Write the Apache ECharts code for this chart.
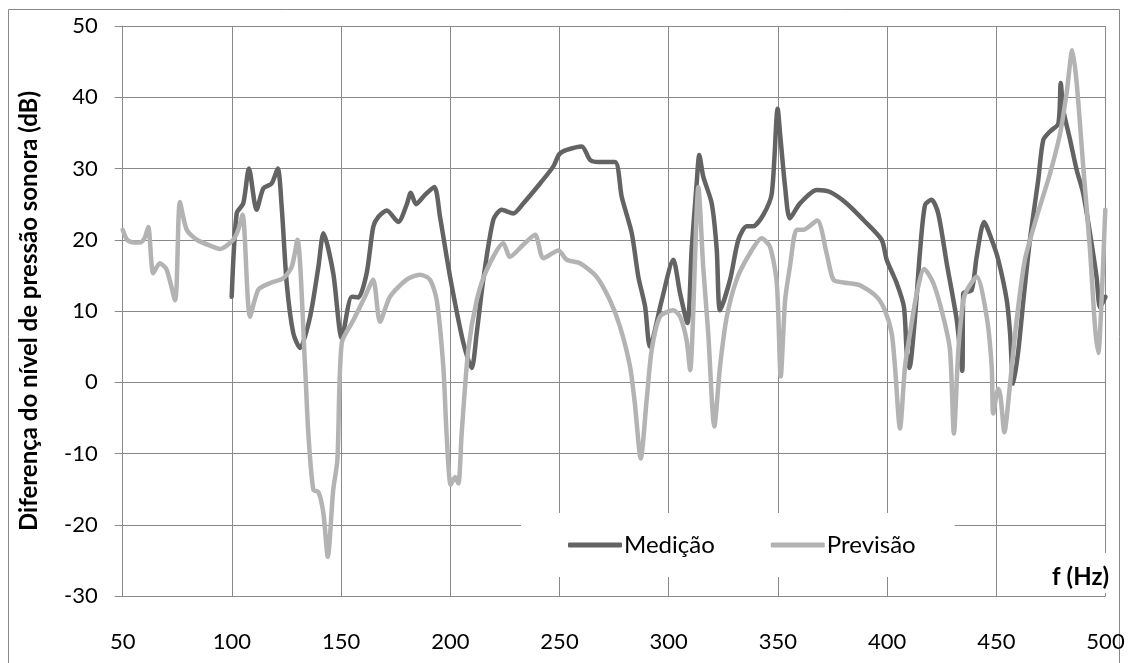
<!DOCTYPE html>
<html>
<head>
<meta charset="utf-8">
<script src="https://cdn.jsdelivr.net/npm/echarts@6/dist/echarts.min.js"></script>
<style>
  html, body { margin: 0; padding: 0; background: #fff; }
  #chart { width: 1129px; height: 663px; }
</style>
</head>
<body>
<div id="chart"></div>
<script>
// Medição (measured)
var medFreq = [99.9, 102.2, 105.2, 107.8, 111.3, 114.4, 118.2, 121, 122.8, 125.1, 128.1, 131.2, 135.8, 139.6, 141.9, 146.4, 150.3, 154.9, 157.9, 161.7, 164.7, 167, 170.9, 176.2, 180, 181.9, 184.3, 188.4, 192.7, 195.3, 199.9, 206, 209.8, 212.1, 215.1, 219.7, 223.5, 228.8, 233.4, 241.1, 247.2, 249.9, 253.3, 260.2, 264, 267.8, 275.4, 278.5, 283.1, 286.1, 289.2, 291.4, 296.8, 302.1, 305.2, 308.6, 310.5, 312.8, 314, 315.8, 319.7, 322, 323.5, 328.1, 331.9, 335.7, 338.7, 343.3, 347.2, 349.9, 351, 353.3, 355.5, 360.1, 367.8, 373.9, 381.5, 389.1, 397.5, 399.8, 404.4, 407.7, 409, 410.2, 412.8, 415, 417.4, 420.4, 423.4, 427.3, 431.9, 434.4, 434.9, 438.7, 441, 444.4, 447.9, 450.9, 454.8, 456.3, 457.8, 460.1, 462.4, 465.4, 469.2, 471.5, 474.6, 478.4, 479.5, 480.7, 483.8, 486.8, 489.8, 492.9, 495.9, 497.5, 500];
var medDb = [12, 23.7, 25.1, 30, 24.2, 27.2, 27.9, 30, 24.6, 13.9, 6.9, 4.8, 9.2, 16.2, 20.9, 15.3, 6.2, 12, 11.9, 15.3, 21.8, 23.2, 24.1, 22.5, 24.9, 26.6, 25, 26.3, 27.4, 23.2, 14.8, 5.5, 2, 6.9, 14.4, 22.8, 24.2, 23.7, 25.1, 27.9, 30.3, 32, 32.6, 33.1, 31.2, 30.9, 30.9, 26, 20.9, 14.8, 10.6, 5, 11.5, 17.2, 12.5, 8.3, 18.6, 27.9, 31.9, 28.9, 25.1, 18.6, 10.1, 14.4, 20, 21.9, 21.9, 23.5, 26.5, 38.4, 34.9, 27.4, 23, 25.1, 27, 26.7, 25.1, 22.8, 20, 17.2, 13.9, 10.6, 4.1, 2, 9.2, 18.1, 24.9, 25.6, 23.7, 16.7, 8.7, 1.6, 12.5, 12.9, 17.6, 22.5, 20, 17.2, 11.5, 6.9, -0.2, 4.5, 11.5, 20, 28.4, 34, 35.2, 36.3, 42, 38.2, 34, 29.8, 26.5, 20.9, 14.8, 10.5, 12];

// Previsão (predicted)
var prevFreq = [50, 52, 55, 58, 60, 61.7, 64, 67, 70.1, 74, 76.2, 79.3, 83.9, 91.5, 94.5, 100.6, 102.9, 104.9, 108.3, 112.1, 117.4, 123.5, 127.4, 130, 133.5, 135, 137.3, 139.6, 141.9, 143.9, 146.4, 148.3, 150.3, 155.6, 160.9, 164.7, 167.8, 172.4, 180, 186.1, 190.7, 193.8, 196.8, 198.3, 200.2, 202.2, 203.7, 205.2, 208.2, 212.1, 216.7, 224.3, 227.3, 233.4, 238.8, 242.6, 249.5, 253.3, 259.4, 267, 273.1, 277.7, 282.3, 284.5, 287.2, 289.9, 292.2, 296, 302.1, 305.2, 308.2, 309.8, 313.6, 315.8, 318.1, 320.9, 323.5, 326.6, 331.1, 337.2, 342.6, 346.4, 349.5, 351.3, 353.3, 355.5, 358.6, 361.6, 368, 372.3, 375.4, 380, 387.6, 395.2, 399, 402.1, 403.6, 405.9, 408.2, 410.5, 413.6, 417, 421.2, 425.7, 428.8, 430.6, 432.6, 434.9, 436.5, 441, 445.6, 447.9, 448.6, 450.9, 452, 453.7, 456.3, 459.3, 463.1, 468.5, 474.6, 479.2, 482.2, 484.8, 486.8, 489.8, 492.9, 495.2, 496.7, 498.2, 499.9];
var prevDb = [21.4, 20, 19.6, 19.6, 20.2, 21.8, 15.3, 16.7, 15.8, 11.5, 25.3, 21.4, 20, 19, 18.7, 20, 21.4, 23.5, 9.2, 13, 13.9, 14.6, 16.2, 20, 2.2, -7.2, -15.1, -15.4, -18.4, -24.5, -15.1, -10.9, 5.5, 8.7, 12, 14.4, 8.5, 12, 14.4, 15.1, 14.4, 11.5, 2.2, -7.2, -14.4, -13.3, -14.2, -7.2, 4.5, 11.5, 15.8, 19.5, 17.6, 19.3, 20.7, 17.4, 18.5, 17.2, 16.7, 14.8, 11.5, 7.8, 2.2, -3, -10.7, -2.5, 4.5, 9.2, 10.1, 9.2, 5.9, 1.7, 27.4, 16.2, 6.9, -6.2, 2.2, 9.2, 14.4, 18.1, 20.2, 19, 13.9, 0.8, 11.5, 16.2, 21.4, 21.4, 22.7, 18.1, 14.4, 14, 13.6, 12, 10.1, 6.9, 2.2, -6.5, 2.2, 6.9, 12.5, 15.9, 13.9, 9.2, 4.5, -7.2, 4.5, 11.5, 12.9, 14.8, 9.2, 2.2, -4.4, -0.9, -2.1, -7, -0.2, 8.7, 17.2, 23.2, 29.3, 34.9, 40.6, 46.6, 42, 30.3, 18.6, 7.8, 4.1, 11.5, 24.2];

var xTicks = [50, 100, 150, 200, 250, 300, 350, 400, 450, 500];
var yTicks = [-30, -20, -10, 0, 10, 20, 30, 40, 50];

function pairs(xs, ys) {
    return xs.map(function (x, i) { return [x, ys[i]]; });
}

var font = 'Lato, "Open Sans", sans-serif';
var gridColor = '#898989';

var chart = echarts.init(document.getElementById('chart'));
var option = {
    animation: false,
    backgroundColor: '#fff',
    grid: { left: 122.7, right: 23.5, top: 26, bottom: 67 },
    xAxis: {
        type: 'value',
        min: xTicks[0],
        max: xTicks[xTicks.length - 1],
        interval: 50,
        axisLine: { show: true, lineStyle: { color: gridColor, width: 1 } },
        axisTick: { show: true, length: 8, inside: false, lineStyle: { color: gridColor } },
        axisLabel: { color: '#000', fontFamily: font, fontSize: 22, margin: 35 },
        splitLine: { show: true, lineStyle: { color: gridColor, width: 1 } }
    },
    yAxis: {
        type: 'value',
        min: yTicks[0],
        max: yTicks[yTicks.length - 1],
        interval: 10,
        name: 'Diferença do nível de pressão sonora (dB)',
        nameLocation: 'middle',
        nameGap: 81,
        nameTextStyle: { color: '#000', fontFamily: font, fontSize: 24, fontWeight: 'bold' },
        axisLine: { show: true, lineStyle: { color: gridColor, width: 1 } },
        axisTick: { show: true, length: 8, lineStyle: { color: gridColor } },
        axisLabel: { color: '#000', fontFamily: font, fontSize: 22, margin: 25 },
        splitLine: { show: true, lineStyle: { color: gridColor, width: 1 } }
    },
    legend: {
        left: 521,
        top: 513,
        padding: [20, 39, 20, 47],
        backgroundColor: '#fff',
        itemGap: 56,
        itemWidth: 54,
        itemHeight: 5,
        icon: 'roundRect',
        textStyle: { color: '#000', fontFamily: font, fontSize: 24, padding: [0, 0, 0, -3] },
        data: ['Medição', 'Previsão']
    },
    graphic: [
        {
            type: 'rect',
            shape: { x: 8.5, y: 9.5, width: 1111, height: 700 },
            style: { fill: 'none', stroke: gridColor, lineWidth: 1 },
            silent: true,
            z: -10
        },
        {
            type: 'rect',
            shape: { x: 1044, y: 553, width: 68, height: 40 },
            style: { fill: '#fff' },
            silent: true,
            z: 10
        },
        {
            type: 'text',
            x: 1109,
            y: 577,
            style: {
                text: 'f (Hz)',
                fill: '#000',
                font: 'bold 24px ' + font,
                align: 'right',
                verticalAlign: 'middle'
            },
            silent: true,
            z: 11
        }
    ],
    series: [
        {
            name: 'Medição',
            type: 'line',
            data: pairs(medFreq, medDb),
            symbol: 'none',
            smooth: 0.25,
            lineStyle: { color: '#636363', width: 4.5, cap: 'round', join: 'round' },
            itemStyle: { color: '#636363' },
            z: 3
        },
        {
            name: 'Previsão',
            type: 'line',
            data: pairs(prevFreq, prevDb),
            symbol: 'none',
            smooth: 0.25,
            lineStyle: { color: '#b3b3b3', width: 4.5, cap: 'round', join: 'round' },
            itemStyle: { color: '#b3b3b3' },
            z: 4
        }
    ]
};
chart.setOption(option);
</script>
</body>
</html>
